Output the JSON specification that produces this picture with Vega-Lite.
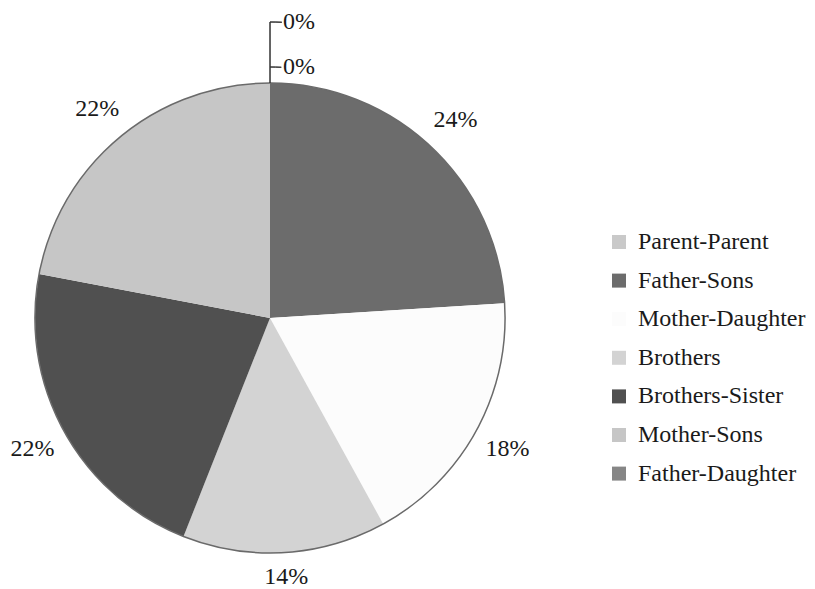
{
  "$schema": "https://vega.github.io/schema/vega-lite/v6.json",
  "width": 540,
  "height": 542,
  "padding": {"left": 0, "top": 47, "right": 275, "bottom": 0},
  "autosize": "none",
  "background": "white",
  "config": {"view": {"stroke": null}, "font": "Liberation Serif, DejaVu Serif, serif"},
  "data": {
    "values": [
      {"relation": "Parent-Parent", "value": 0, "idx": 0, "label": "0%"},
      {"relation": "Father-Sons", "value": 24, "idx": 1, "label": "24%"},
      {"relation": "Mother-Daughter", "value": 18, "idx": 2, "label": "18%"},
      {"relation": "Brothers", "value": 14, "idx": 3, "label": "14%"},
      {"relation": "Brothers-Sister", "value": 22, "idx": 4, "label": "22%"},
      {"relation": "Mother-Sons", "value": 22, "idx": 5, "label": "22%"},
      {"relation": "Father-Daughter", "value": 0, "idx": 6, "label": "0%"}
    ]
  },
  "layer": [
    {
      "mark": {"type": "arc", "radius": 235},
      "encoding": {
        "theta": {"field": "value", "type": "quantitative", "stack": true, "scale": {"domain": [0, 100]}},
        "order": {"field": "idx", "type": "quantitative"},
        "color": {
          "field": "relation",
          "type": "nominal",
          "sort": null,
          "scale": {
            "domain": ["Parent-Parent", "Father-Sons", "Mother-Daughter", "Brothers", "Brothers-Sister", "Mother-Sons", "Father-Daughter"],
            "range": ["#c9c9c9", "#6c6c6c", "#fcfcfc", "#d3d3d3", "#505050", "#c6c6c6", "#868686"]
          },
          "legend": {
            "title": null,
            "orient": "none",
            "legendX": 607,
            "legendY": 183,
            "symbolType": "square",
            "symbolSize": 196,
            "symbolStrokeWidth": 0,
            "labelFont": "Liberation Serif, DejaVu Serif, serif",
            "labelFontSize": 24,
            "labelColor": "#1a1a1a",
            "labelOffset": 7,
            "rowPadding": 14.6,
            "labelLimit": 300
          }
        }
      }
    },
    {
      "data": {"values": [{"a": 1}]},
      "mark": {"type": "arc", "radius": 235, "theta": 0, "theta2": 6.2832, "stroke": "#6a6a6a", "strokeWidth": 1.5, "fill": null},
      "encoding": {}
    },
    {
      "mark": {"type": "text", "radius": 271, "font": "Liberation Serif, DejaVu Serif, serif", "fontSize": 24, "color": "#1a1a1a"},
      "encoding": {
        "theta": {"field": "value", "type": "quantitative", "stack": true, "scale": {"domain": [0, 100]}},
        "order": {"field": "idx", "type": "quantitative"},
        "text": {"condition": {"test": "datum.value > 0 && datum.relation != 'Brothers'", "field": "label"}, "value": ""}
      }
    },
    {
      "mark": {"type": "text", "radius": 260, "font": "Liberation Serif, DejaVu Serif, serif", "fontSize": 24, "color": "#1a1a1a"},
      "encoding": {
        "theta": {"field": "value", "type": "quantitative", "stack": true, "scale": {"domain": [0, 100]}},
        "order": {"field": "idx", "type": "quantitative"},
        "text": {"condition": {"test": "datum.relation == 'Brothers'", "field": "label"}, "value": ""}
      }
    },
    {
      "transform": [{"filter": "datum.relation == 'Parent-Parent'"}],
      "mark": {"type": "text", "radius": 251, "font": "Liberation Serif, DejaVu Serif, serif", "fontSize": 24, "color": "#1a1a1a", "align": "left", "dx": 13},
      "encoding": {
        "theta": {"field": "value", "type": "quantitative", "stack": null, "scale": {"domain": [0, 100]}},
        "text": {"field": "label"}
      }
    },
    {
      "transform": [{"filter": "datum.relation == 'Father-Daughter'"}],
      "mark": {"type": "text", "radius": 296, "font": "Liberation Serif, DejaVu Serif, serif", "fontSize": 24, "color": "#1a1a1a", "align": "left", "dx": 13},
      "encoding": {
        "theta": {"field": "value", "type": "quantitative", "stack": null, "scale": {"domain": [0, 100]}},
        "text": {"field": "label"}
      }
    },
    {
      "data": {"values": [{"a": 1}]},
      "mark": {"type": "arc", "radius": 235, "radius2": 296, "theta": 0, "theta2": 0.0001, "stroke": "#333", "strokeWidth": 1, "fill": null},
      "encoding": {}
    },
    {
      "data": {"values": [{"a": 1}]},
      "mark": {"type": "arc", "radius": 296, "radius2": 296, "theta": 0, "theta2": 0.04, "stroke": "#333", "strokeWidth": 1, "fill": null},
      "encoding": {}
    },
    {
      "data": {"values": [{"a": 1}]},
      "mark": {"type": "arc", "radius": 251, "radius2": 251, "theta": 0, "theta2": 0.045, "stroke": "#333", "strokeWidth": 1, "fill": null},
      "encoding": {}
    }
  ]
}
